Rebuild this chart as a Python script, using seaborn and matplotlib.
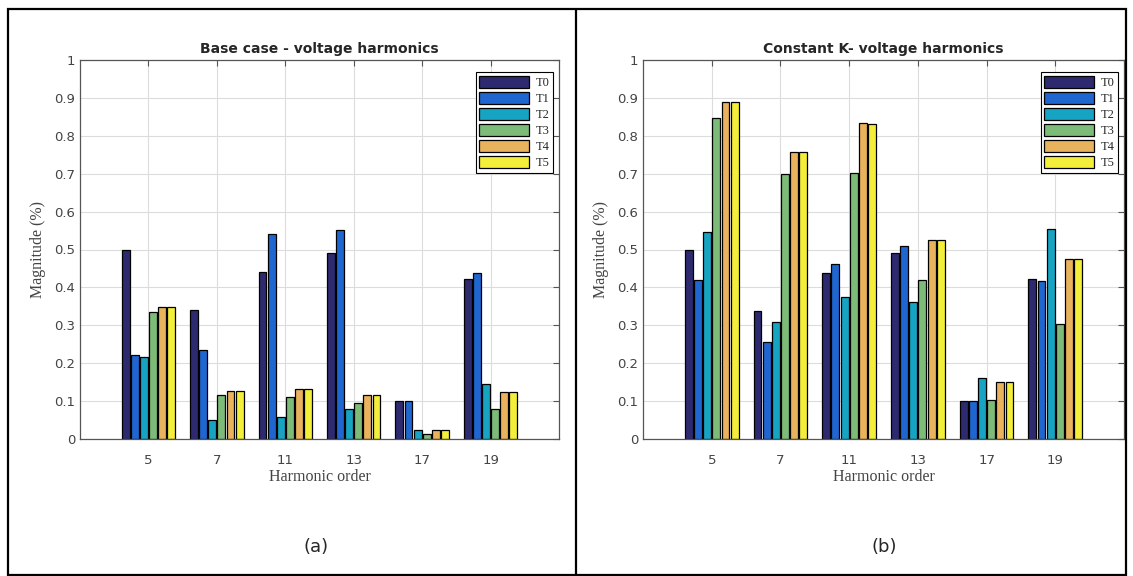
import pandas as pd
import matplotlib
matplotlib.use("Agg")
import matplotlib.pyplot as plt
import seaborn as sns
from matplotlib.patches import Rectangle
from matplotlib.lines import Line2D

# данные
harmonics = ['5', '7', '11', '13', '17', '19']
taps = ['T0', 'T1', 'T2', 'T3', 'T4', 'T5']

# строки: T0..T5, столбцы: гармоники 5,7,11,13,17,19
base_case = [
    [0.500, 0.340, 0.440, 0.492, 0.100, 0.421],
    [0.222, 0.234, 0.542, 0.552, 0.100, 0.438],
    [0.217, 0.050, 0.059, 0.079, 0.023, 0.144],
    [0.335, 0.117, 0.112, 0.094, 0.014, 0.079],
    [0.349, 0.127, 0.132, 0.117, 0.023, 0.124],
    [0.349, 0.127, 0.132, 0.117, 0.023, 0.124],
]
constant_k = [
    [0.500, 0.339, 0.439, 0.492, 0.100, 0.422],
    [0.419, 0.257, 0.462, 0.509, 0.100, 0.416],
    [0.547, 0.310, 0.375, 0.362, 0.160, 0.553],
    [0.846, 0.699, 0.703, 0.419, 0.103, 0.304],
    [0.888, 0.758, 0.835, 0.524, 0.150, 0.474],
    [0.888, 0.758, 0.832, 0.524, 0.150, 0.474],
]
titles = ['Base case - voltage harmonics', 'Constant K- voltage harmonics']
captions = ['(a)', '(b)']
colors = ['#2d2a70', '#1f66d0', '#17a3c2', '#7dbb78', '#e9b25c', '#f3ee3a']


def to_frame(values):
    rows = []
    for t, vals in zip(taps, values):
        for h, v in zip(harmonics, vals):
            rows.append({'Harmonic': h, 'Tap': t, 'Magnitude': v})
    return pd.DataFrame(rows)


sns.set_style("whitegrid")
plt.rcParams['font.family'] = ['DejaVu Sans']

W, H = 1133, 576
fig = plt.figure(figsize=(W / 100, H / 100), dpi=100)

axes_px = [(80, 60, 559, 439), (643, 60, 1124, 439)]
caption_x = [316, 884]

for i, data in enumerate([base_case, constant_k]):
    x0, y0, x1, y1 = axes_px[i]
    ax = fig.add_axes([x0 / W, 1 - y1 / H, (x1 - x0) / W, (y1 - y0) / H])
    df = to_frame(data)
    sns.barplot(data=df, x='Harmonic', y='Magnitude', hue='Tap',
                order=harmonics, hue_order=taps, palette=colors, saturation=1,
                width=0.8, gap=0.14, edgecolor='black', linewidth=0.9,
                errorbar=None, ax=ax)
    ax.set_xlim(-1, 6)
    ax.set_ylim(0, 1)
    ax.set_yticks([k / 10 for k in range(11)])
    ax.set_yticklabels(['0'] + ['0.%d' % k for k in range(1, 10)] + ['1'])
    ax.grid(True, color='#dcdcdc', linewidth=0.8)
    ax.set_axisbelow(True)
    for s in ax.spines.values():
        s.set_color('#555555')
        s.set_linewidth(0.9)
    ax.tick_params(direction='in', length=4, top=True, right=True,
                   color='#555555', labelsize=9.5, labelcolor='#444444')
    ax.tick_params(axis='x', pad=11)
    ax.set_title(titles[i], fontsize=10, fontweight='bold', pad=5)
    ax.set_xlabel('Harmonic order', family='Liberation Serif', fontsize=11.5,
                  color='#444444', labelpad=1)
    ax.set_ylabel('Magnitude (%)', family='Liberation Serif', fontsize=11.5,
                  color='#444444', labelpad=6)
    leg = ax.legend(loc='upper right', bbox_to_anchor=(0.988, 0.968),
                    borderaxespad=0, fancybox=False, framealpha=1,
                    edgecolor='black', prop={'family': 'Liberation Serif', 'size': 9},
                    handlelength=4.0, handleheight=1.1, labelspacing=0.22,
                    handletextpad=0.5, borderpad=0.3)
    leg.get_frame().set_linewidth(0.8)
    fig.text(caption_x[i] / W, 1 - 547 / H, captions[i], ha='center', va='center',
             fontsize=13)

# рамка вокруг рисунка и разделитель
fig.patches.append(Rectangle((8 / W, 1 / H), 1118 / W, 566 / H, transform=fig.transFigure,
                             fill=False, edgecolor='black', linewidth=1.6))
fig.lines.append(Line2D([575.5 / W, 575.5 / W], [1 / H, 1 - 9 / H], transform=fig.transFigure,
                        color='black', linewidth=1.6))

fig.savefig('out.png', dpi=100)
